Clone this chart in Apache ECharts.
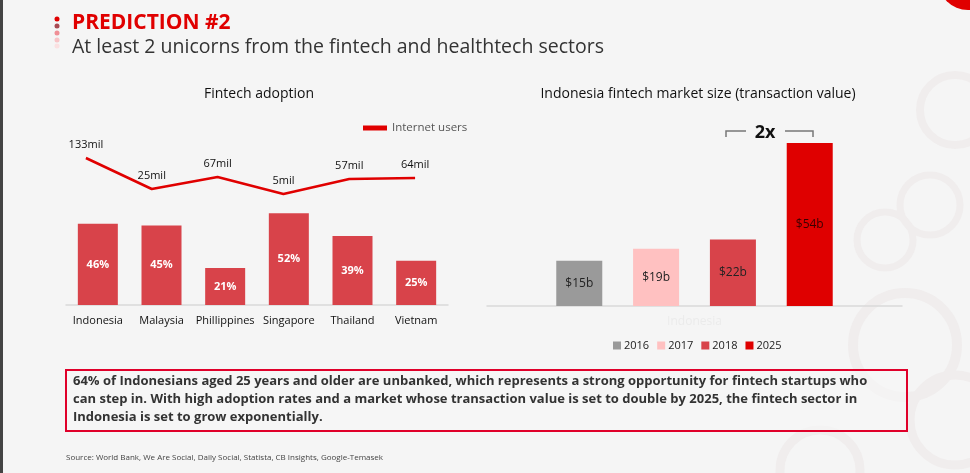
<!DOCTYPE html>
<html>
<head>
<meta charset="utf-8">
<script src="https://cdn.jsdelivr.net/npm/echarts@6/dist/echarts.min.js"></script>
<style>
html, body { margin: 0; padding: 0; background: #f5f5f5; }
#chart { width: 970px; height: 473px; }
</style>
</head>
<body>
<div id="chart"></div>
<script>
// left chart: fintech adoption per country
var countries = ['Indonesia', 'Malaysia', 'Phillippines', 'Singapore', 'Thailand', 'Vietnam'];
var adoption = [46, 45, 21, 52, 39, 25];
// internet users line (drawn height, labels as printed)
var usersLevel = [42, 11, 23, 6, 21, 22];
var usersLabels = ['133mil', '25mil', '67mil', '5mil', '57mil', '64mil'];

// right chart: market size
var years = ['2016', '2017', '2018', '2025'];
var marketSize = [15, 19, 22, 54];
var yearColors = ['#9a9a9a', '#ffc1c1', '#d8434a', '#df0000'];

var FONT = '"Open Sans", Lato, sans-serif';

var myChart = echarts.init(document.getElementById('chart'));

var series = [];
series.push({
    name: 'adoption',
    type: 'bar',
    xAxisIndex: 0,
    yAxisIndex: 0,
    barWidth: 40,
    itemStyle: { color: '#d8434a' },
    label: {
        show: true,
        position: 'inside',
        color: '#fff',
        fontFamily: FONT,
        fontWeight: 'bold',
        fontSize: 11,
        formatter: '{c}%'
    },
    data: adoption,
    silent: true
});
series.push({
    name: 'Internet users',
    type: 'line',
    xAxisIndex: 1,
    yAxisIndex: 1,
    symbol: 'circle',
    symbolSize: 0,
    showSymbol: true,
    lineStyle: { color: '#e00000', width: 2.5 },
    itemStyle: { color: '#e00000' },
    label: {
        show: true,
        position: 'top',
        distance: 8,
        color: '#111',
        fontFamily: FONT,
        fontSize: 11,
        formatter: function (p) { return usersLabels[p.dataIndex]; }
    },
    data: usersLevel
});
years.forEach(function (y, i) {
    var d = [marketSize[i]];
    series.push({
        name: y,
        type: 'bar',
        xAxisIndex: 2,
        yAxisIndex: 2,
        barWidth: 46,
        barGap: '67%',
        itemStyle: { color: yearColors[i] },
        label: {
            show: true,
            position: 'inside',
            color: i == 3 ? '#3a0000' : '#222',
            fontFamily: FONT,
            fontSize: 12,
            formatter: '${c}b'
        },
        data: d
    });
});

var ring = function (cx, cy, r, w) {
    return {
        type: 'circle',
        shape: { cx: cx, cy: cy, r: r },
        style: { fill: 'none', stroke: '#f0eded', lineWidth: w },
        z: -10, silent: true
    };
};

var option = {
    backgroundColor: '#f5f5f5',
    animation: false,
    title: [
        { text: 'Fintech adoption', left: 254, top: 82, textAlign: 'center',
          textStyle: { fontFamily: FONT, fontSize: 14, fontWeight: 'normal', color: '#111' } },
        { text: 'Indonesia fintech market size (transaction value)', left: 693, top: 82, textAlign: 'center',
          textStyle: { fontFamily: FONT, fontSize: 14, fontWeight: 'normal', color: '#111' } }
    ],
    legend: [
        {
            data: ['Internet users'],
            left: 358, top: 117,
            itemWidth: 24, itemHeight: 5,
            icon: 'rect',
            textStyle: { fontFamily: FONT, fontSize: 11.5, color: '#555' }
        },
        {
            data: years,
            left: 608, top: 335,
            itemWidth: 8, itemHeight: 8, itemGap: 8,
            icon: 'rect',
            textStyle: { fontFamily: FONT, fontSize: 11, color: '#222', padding: [0, 0, 0, -2] }
        }
    ],
    grid: [
        { left: 66, width: 382, top: 199, height: 106 },
        { left: 53, width: 395, top: 150, height: 50 },
        { left: 487, width: 415, top: 143, height: 163 }
    ],
    xAxis: [
        {
            gridIndex: 0, type: 'category', data: countries,
            axisLine: { lineStyle: { color: '#d9d9d9', width: 1.5 } },
            axisTick: { show: false },
            axisLabel: { color: '#111', fontFamily: FONT, fontSize: 11, margin: 10, interval: 0 }
        },
        { gridIndex: 1, type: 'category', data: countries, show: false },
        {
            gridIndex: 2, type: 'category', data: ['Indonesia'],
            axisLine: { lineStyle: { color: '#d9d9d9', width: 1.5 } },
            axisTick: { show: false },
            axisLabel: { color: '#ebebeb', fontFamily: FONT, fontSize: 12, margin: 10 }
        }
    ],
    yAxis: [
        { gridIndex: 0, type: 'value', min: 0, max: 60, show: false },
        { gridIndex: 1, type: 'value', min: 0, max: 50, show: false },
        { gridIndex: 2, type: 'value', min: 0, max: 54, show: false }
    ],
    series: series,
    graphic: [
        // page decoration
        { type: 'rect', shape: { x: 0, y: 0, width: 3, height: 473 }, style: { fill: '#444' } },
        { type: 'circle', shape: { cx: 968, cy: -20, r: 30 }, style: { fill: '#e00000' } },
        ring(885, 240, 28, 7),
        ring(930, 205, 30, 7),
        ring(905, 345, 52, 10),
        ring(955, 110, 35, 8),
        ring(955, 420, 45, 9),
        ring(820, 470, 40, 9),
        { type: 'circle', shape: { cx: 57, cy: 19, r: 2.5 }, style: { fill: '#e00000' } },
        { type: 'circle', shape: { cx: 57, cy: 26, r: 2.5 }, style: { fill: '#a84a52' } },
        { type: 'circle', shape: { cx: 57, cy: 33, r: 2.5 }, style: { fill: '#f08f96' } },
        { type: 'circle', shape: { cx: 57, cy: 40, r: 2.5 }, style: { fill: '#f8c4c7' } },
        { type: 'circle', shape: { cx: 57, cy: 46, r: 2.5 }, style: { fill: '#fbe0e1' } },
        { type: 'text', left: 72, top: 13,
          style: { text: 'PREDICTION #2', fill: '#e00000', font: 'bold 21px ' + FONT } },
        { type: 'text', left: 72, top: 37,
          style: { text: 'At least 2 unicorns from the fintech and healthtech sectors', fill: '#333', font: '19.5px ' + FONT } },
        // 2x bracket
        { type: 'polyline', shape: { points: [[726, 137], [726, 131], [746, 131]] },
          style: { stroke: '#777', lineWidth: 1.5, fill: 'none' } },
        { type: 'polyline', shape: { points: [[785, 131], [813, 131], [813, 137]] },
          style: { stroke: '#777', lineWidth: 1.5, fill: 'none' } },
        { type: 'text', x: 765, y: 133,
          style: { text: '2x', fill: '#111', font: 'bold 18px ' + FONT, textAlign: 'center', textVerticalAlign: 'middle' } },
        // summary box
        { type: 'rect', shape: { x: 66, y: 370, width: 841, height: 61 },
          style: { fill: 'rgba(247,247,247,0.6)', stroke: '#e0002a', lineWidth: 2 } },
        { type: 'text', left: 73, top: 372,
          style: {
              text: '64% of Indonesians aged 25 years and older are unbanked, which represents a strong opportunity for fintech startups who\ncan step in. With high adoption rates and a market whose transaction value is set to double by 2025, the fintech sector in\nIndonesia is set to grow exponentially.',
              fill: '#333', font: 'bold 13px ' + FONT, lineHeight: 18
          } },
        { type: 'text', left: 66, top: 454,
          style: { text: 'Source: World Bank, We Are Social, Daily Social, Statista, CB Insights, Google-Temasek', fill: '#444', font: '8px ' + FONT } }
    ]
};

myChart.setOption(option);
</script>
</body>
</html>
